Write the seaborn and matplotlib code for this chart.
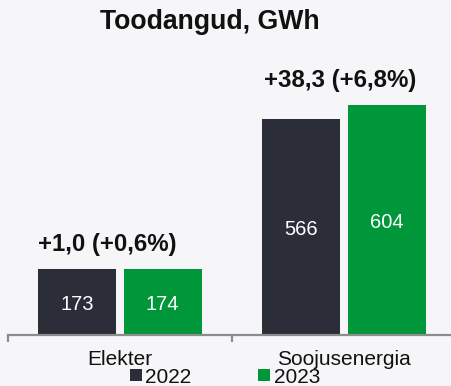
import matplotlib
matplotlib.use("Agg")
import matplotlib.pyplot as plt
from matplotlib.lines import Line2D
import pandas as pd
import seaborn as sns

# Production volumes, GWh
categories = ["Elekter", "Soojusenergia"]
years = ["2022", "2023"]
values_2022 = [173, 566]
values_2023 = [174, 604]
changes = ["+1,0 (+0,6%)", "+38,3 (+6,8%)"]
title = "Toodangud, GWh"

bg = "#f6f6f8"
colors = ["#2b2e39", "#00963a"]

sns.set_theme(style="white")
plt.rcParams["font.family"] = ["Liberation Sans", "DejaVu Sans"]

df = pd.DataFrame({
    "kategooria": categories * 2,
    "aasta": [years[0]] * len(categories) + [years[1]] * len(categories),
    "GWh": values_2022 + values_2023,
})

fig = plt.figure(figsize=(4.51, 3.86), dpi=100, facecolor=bg)
ax = fig.add_axes([8 / 451, 0.1321, 448 / 451, 0.6917])
ax.set_facecolor(bg)

sns.barplot(data=df, x="kategooria", y="GWh", hue="aasta", palette=colors,
            saturation=1, width=0.76, gap=0.084, linewidth=0, ax=ax,
            legend=False)

ax.set_xlim(-0.5, 1.5)
ax.set_ylim(0, 700)

# value labels inside bars, a touch below the bar middle
for cont in ax.containers:
    ax.bar_label(cont, labels=[f"{v:.0f}" for v in cont.datavalues],
                 label_type="center", color="white", fontsize=14.5,
                 padding=-2)

# change annotations above each group
x_shift = [-0.056, -0.016]
for i, txt in enumerate(changes):
    top = max(values_2022[i], values_2023[i])
    ax.annotate(txt, xy=(i + x_shift[i], top), xytext=(0, 17.5),
                textcoords="offset points", ha="center", va="center",
                fontsize=17.3, fontweight="bold", color="#111111")

for side in ["left", "right", "top"]:
    ax.spines[side].set_visible(False)
ax.spines["bottom"].set_color("#8c8c8c")
ax.spines["bottom"].set_linewidth(1.6)
ax.set_yticks([])
ax.set_xlabel("")
ax.set_ylabel("")
ax.tick_params(axis="x", which="major", length=0, pad=11, labelsize=15,
               labelcolor="#111111")
ax.set_xticks([-0.5, 0.5, 1.5], minor=True)
ax.tick_params(axis="x", which="minor", bottom=True, length=5, width=1.6,
               color="#8c8c8c", direction="out")

fig.text(209.5 / 451, 1 - 22 / 386, title, ha="center", va="center",
         fontsize=19.2, fontweight="bold", color="#111111")

handles = [Line2D([], [], marker="s", linestyle="none", markersize=8.5,
                  markerfacecolor=c, markeredgewidth=0) for c in colors]
fig.legend(handles, years, loc="center", bbox_to_anchor=(0.499, 0.023),
           ncol=2, frameon=False, fontsize=15, handlelength=0.55,
           handletextpad=0.2, columnspacing=3.2, borderpad=0,
           labelcolor="#111111")

fig.savefig("out.png", dpi=100, facecolor=bg)
